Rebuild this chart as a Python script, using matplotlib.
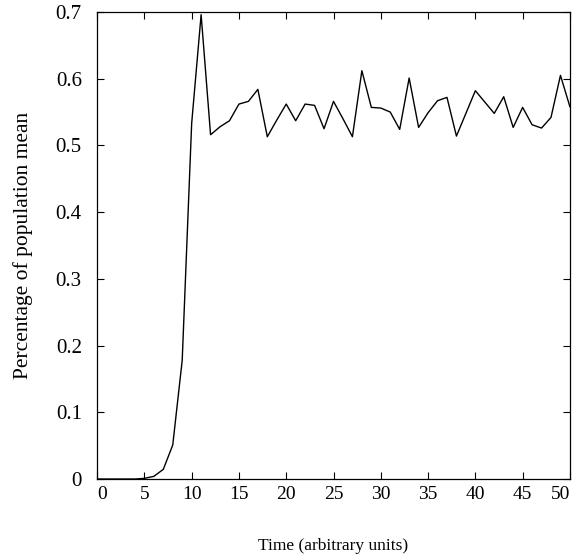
import numpy as np
import matplotlib.pyplot as plt
from matplotlib import font_manager

# pick a Times-like serif that is installed
names = sorted(set(f.name for f in font_manager.fontManager.ttflist))
serif = 'DejaVu Serif'
for want in ['Liberation Serif', 'Times New Roman', 'Nimbus Roman', 'FreeSerif']:
    hits = [n for n in names if want.lower() in n.lower()]
    if hits:
        serif = hits[0]
        break
plt.rcParams['font.family'] = [serif, 'DejaVu Serif']

# time steps and mean share
t = np.arange(51)
share = [0.0, 0.0, 0.0, 0.0, 0.0, 0.001, 0.004, 0.0145, 0.051, 0.178,
         0.533, 0.696, 0.516, 0.528, 0.537, 0.562, 0.566, 0.584, 0.513, 0.538,
         0.562, 0.537, 0.562, 0.560, 0.525, 0.566, 0.540, 0.513, 0.612, 0.557,
         0.556, 0.550, 0.524, 0.601, 0.527, 0.549, 0.567, 0.572, 0.514, 0.548,
         0.582, 0.565, 0.548, 0.573, 0.527, 0.557, 0.531, 0.526, 0.542, 0.605,
         0.558]
xticks = np.arange(0, 51, 5)
yticks = np.arange(0, 0.71, 0.1)

fig = plt.figure(figsize=(5.78, 5.6), dpi=100)
ax = fig.add_axes([0.168, 0.1446, 0.818, 0.834])
ax.plot(t, share, color='black', lw=1.0)

ax.set_xlim(0, 50)
ax.set_ylim(0, 0.7)
ax.set_xticks(xticks)
ax.set_yticks(yticks)
ax.set_yticklabels(['0'] + ['%.1f' % v for v in yticks[1:]])
ax.tick_params(direction='in', length=5, width=0.8, top=True, right=True)
ax.tick_params(axis='x', pad=5, labelsize=14)
ax.tick_params(axis='y', pad=11, labelsize=15)
xl = ax.get_xticklabels()
xl[0].set_horizontalalignment('left')
xl[-1].set_horizontalalignment('right')

for s in ax.spines.values():
    s.set_linewidth(0.9)

ax.set_xlabel('Time (arbitrary units)', fontsize=12.5, labelpad=25)
ax.set_ylabel('Percentage of population mean', fontsize=15.5, labelpad=16)

fig.savefig('out.png', dpi=100)
